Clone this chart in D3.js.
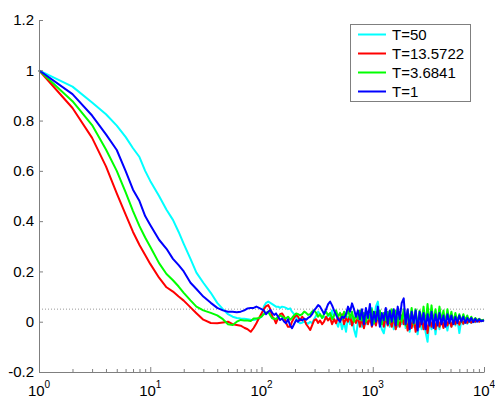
<!DOCTYPE html>
<html>
<head>
<meta charset="utf-8">
<script src="https://cdn.jsdelivr.net/npm/d3@7"></script>
<style>
  html, body { margin: 0; padding: 0; background: #fff; }
  svg { display: block; font-family: "Liberation Sans", Arial, sans-serif; }
</style>
</head>
<body>
<svg id="chart" width="495" height="400"></svg>
<script>
// ---- Data ----
const lags = [
  1,2,3,4,5,6,7,8,9,10,12,14,16,18,20,23,26,30,35,40,45,50,55,60,65,70,75,80,85,90,95,100,105,110,115,120,125,
  130,135,141,147,153,160,166,173,181,188,196,205,213,222,232,242,252,262,274,285,297,310,323,336,351,365,381,397,414,431,
  449,468,488,508,530,552,575,599,625,651,678,707,736,767,800,833,868,905,943,982,1024,1067,1111,1158,1207,1257,1310,1365,1423,1482,
  1545,1610,1677,1748,1821,1898,1977,2060,2147,2237,2331,2429,2531,2637,2748,2863,2983,3109,3239,3375,3517,3665,3819,3979,4146,4320,
  4502,4691,4888,5093,5307,5530,5762,6004,6256,6519,6793,7078,7375,7685,8008,8344,8694,9059,9440,10000
];

const seriesNames = ["T=50", "T=13.5722", "T=3.6841", "T=1"];
const seriesColors = ["#00ffff", "#ff0000", "#00ff00", "#0000ff"];

const valuesT50 = [
  1,0.935,0.872,0.825,0.78,0.735,0.69,0.655,0.6,0.56,0.5,0.445,0.405,0.357,0.31,0.25,0.195,0.155,0.115,0.075,0.05,0.03,0.02,0.015,0.013,0.012,0.01,0.008,0.007,0.01,0.013,0.02,0.06,0.075,0.08,0.075,0.07,
  0.065,0.06,0.06,0.055,0.06,0.058,0.055,0.05,0.053,0.04,0.03,0.015,0.0,-0.006,-0.004,0.0,-0.005,-0.008,0.0,-0.006,
  0.01,0.025,0.04,0.03,0.015,0.02,0.01,0.03,0.02,0.045,0.01,0.0,-0.02,0.01,-0.03,0.0,-0.04,0.02,-0.01,0.03,
  -0.03,-0.06,0.0,0.03,-0.02,0.02,-0.01,0.04,0.0,0.055,-0.01,0.06,0.08,0.01,-0.03,-0.046,0.0,0.03,-0.02,0.02,
  -0.03,0.01,-0.02,0.03,-0.01,0.02,-0.025,0.01,-0.04,0.015,-0.02,0.02,-0.05,0.01,-0.03,0.02,-0.04,-0.08,0.01,-0.03,
  0.02,-0.05,0.01,-0.03,0.015,-0.02,0.01,-0.035,0.01,-0.02,0.01,-0.015,0.01,-0.045,0.008,-0.01,0.01,-0.008,0.008,-0.005,
  0.006,-0.002,0.005,0.0,0.004,0.002
];

const valuesT13 = [
  1,0.85,0.731,0.618,0.51,0.427,0.357,0.305,0.265,0.23,0.175,0.137,0.12,0.1,0.084,0.057,0.034,0.008,-0.005,-0.006,-0.003,0.0,-0.01,-0.013,-0.016,-0.024,-0.03,-0.04,-0.025,-0.006,0.015,0.033,0.05,0.062,0.066,0.05,0.02,
  0.01,-0.006,0.015,0.03,0.033,0.02,-0.005,-0.02,-0.02,0.0,0.015,0.027,0.02,0.005,0.02,0.01,-0.01,-0.02,-0.033,-0.015,
  0.005,0.01,-0.005,0.005,-0.01,0.0,0.02,0.005,0.015,-0.01,0.01,-0.006,0.02,0.0,0.03,-0.01,0.015,0.0,0.025,-0.015,
  0.01,-0.005,0.02,-0.02,0.015,-0.026,0.01,-0.01,0.02,-0.02,0.01,-0.015,0.025,-0.01,0.015,-0.02,0.02,-0.015,0.01,-0.02,
  0.02,-0.03,0.01,-0.02,0.025,-0.01,0.02,-0.035,0.01,-0.025,0.015,-0.04,0.01,-0.02,0.02,-0.03,0.01,-0.045,0.015,-0.02,
  0.01,-0.03,0.015,-0.02,0.01,-0.025,0.015,-0.015,0.01,-0.02,0.01,-0.01,0.012,-0.012,0.01,-0.008,0.01,-0.005,0.01,-0.004,
  0.008,0.0,0.008,0.0,0.006,0.004
];

const valuesT3 = [
  1,0.877,0.782,0.685,0.6,0.515,0.44,0.38,0.335,0.298,0.233,0.19,0.165,0.14,0.115,0.085,0.06,0.045,0.035,0.025,0.01,-0.01,-0.013,0.0,0.007,0.005,0.005,0.003,0.013,0.013,0.015,0.02,0.03,0.035,0.04,0.025,0.013,
  0.013,0.01,0.02,0.025,0.02,0.015,0.013,0.02,0.008,0.015,0.025,0.033,0.03,0.025,0.03,0.04,0.035,0.027,0.03,0.04,
  0.045,0.035,0.02,0.03,0.015,0.03,0.04,0.025,0.035,0.01,0.025,0.045,0.02,0.035,0.01,0.04,0.02,0.05,0.015,0.04,
  0.0,0.03,0.01,0.045,0.005,0.035,0.0,0.04,0.01,0.05,-0.005,0.04,0.01,0.045,-0.01,0.035,0.005,0.04,-0.005,0.05,
  0.0,0.045,-0.01,0.04,0.0,0.05,-0.015,0.045,-0.005,0.055,-0.01,0.05,-0.02,0.045,0.0,0.06,-0.015,0.07,-0.01,0.065,
  -0.005,0.05,-0.01,0.06,0.0,0.045,-0.01,0.05,0.0,0.04,-0.005,0.035,0.0,0.03,0.0,0.03,0.005,0.025,0.0,0.02,
  0.002,0.015,0.005,0.012,0.005,0.008
];

const valuesT1 = [
  1,0.905,0.82,0.745,0.683,0.6,0.525,0.48,0.42,0.385,0.326,0.29,0.25,0.225,0.2,0.155,0.13,0.1,0.075,0.055,0.045,0.04,0.04,0.038,0.04,0.045,0.053,0.055,0.055,0.06,0.055,0.05,0.045,0.03,0.04,0.047,0.035,
  0.027,0.033,0.02,0.007,0.013,0.0,-0.006,0.01,-0.015,-0.026,-0.01,0.007,0.0,0.01,0.005,0.012,0.008,0.015,0.02,0.03,
  0.045,0.055,0.066,0.06,0.045,0.03,0.05,0.07,0.08,0.065,0.045,0.027,0.01,0.0,0.02,0.015,0.03,0.06,0.04,0.073,
  0.05,0.02,0.045,0.01,0.05,-0.01,0.055,0.015,0.07,-0.015,0.04,0.0,0.06,-0.02,0.035,0.005,0.055,-0.01,0.045,0.0,
  0.05,-0.015,0.06,0.01,0.075,0.093,-0.01,0.05,-0.03,0.04,-0.005,0.045,-0.035,0.04,-0.01,0.035,-0.03,0.03,-0.015,0.04,
  -0.025,0.03,-0.015,0.035,-0.01,0.025,-0.02,0.03,-0.005,0.025,-0.01,0.02,-0.005,0.025,0.0,0.02,-0.005,0.015,0.0,0.015,
  -0.002,0.012,0.0,0.01,0.002,0.006
];

const seriesValues = [valuesT50, valuesT13, valuesT3, valuesT1];

const yTicks = [-0.2, 0, 0.2, 0.4, 0.6, 0.8, 1, 1.2];
const yTickLabels = ["-0.2", "0", "0.2", "0.4", "0.6", "0.8", "1", "1.2"];
const xTicks = [1, 10, 100, 1000, 10000];
const xTickExponents = ["0", "1", "2", "3", "4"];
const refLevel = 0.05;

(function draw() {
  const svg = d3.select("#chart");
  const mLeft = 39, mRight = 484, mTop = 20, mBottom = 372;

  const x = d3.scaleLog().domain([1, 10000]).range([mLeft, mRight]);
  const y = d3.scaleLinear().domain([-0.2, 1.2]).range([mBottom, mTop]);

  const axisColor = "#7f7f7f";
  const fontSize = 15;

  // dotted reference line
  svg.append("line")
    .attr("x1", x(1)).attr("x2", x(10000))
    .attr("y1", y(refLevel)).attr("y2", y(refLevel))
    .attr("stroke", "#999").attr("stroke-width", 1)
    .attr("stroke-dasharray", "1,2");

  // series
  const line = d3.line().x((d, i) => x(lags[i])).y(d => y(d));
  seriesValues.forEach((vals, k) => {
    svg.append("path")
      .datum(vals)
      .attr("fill", "none")
      .attr("stroke", seriesColors[k])
      .attr("stroke-width", 2)
      .attr("stroke-linejoin", "round")
      .attr("d", line);
  });

  // y axis
  const yAxis = d3.axisLeft(y).tickValues(yTicks)
    .tickFormat((d, i) => yTickLabels[i])
    .tickSizeInner(-4).tickSizeOuter(0).tickPadding(5);
  const gy = svg.append("g").attr("transform", `translate(${mLeft},0)`).call(yAxis);
  gy.select(".domain").attr("stroke", axisColor);
  gy.selectAll(".tick line").attr("stroke", axisColor);
  gy.selectAll(".tick text").attr("fill", "#000").attr("font-size", fontSize)
    .attr("font-family", "Liberation Sans, Arial, sans-serif");

  // x axis (major)
  const xAxis = d3.axisBottom(x).tickValues(xTicks).tickFormat("")
    .tickSizeInner(-5).tickSizeOuter(0).tickPadding(0);
  const gx = svg.append("g").attr("transform", `translate(0,${mBottom})`).call(xAxis);
  gx.select(".domain").attr("stroke", axisColor);
  gx.selectAll(".tick line").attr("stroke", axisColor);
  gx.selectAll(".tick text").remove();

  // minor ticks
  const minorVals = [];
  xTicks.slice(0, -1).forEach(dec => { [2,3,4,5,6,7,8,9].forEach(m => minorVals.push(dec * m)); });
  const xMinor = d3.axisBottom(x).tickValues(minorVals).tickFormat("")
    .tickSizeInner(-3).tickSizeOuter(0);
  const gxm = svg.append("g").attr("transform", `translate(0,${mBottom})`).call(xMinor);
  gxm.select(".domain").remove();
  gxm.selectAll(".tick line").attr("stroke", axisColor);
  gxm.selectAll(".tick text").remove();

  // x tick labels with superscripts
  xTicks.forEach((t, i) => {
    const txt = svg.append("text")
      .attr("x", x(t)).attr("y", 396)
      .attr("text-anchor", "middle")
      .attr("font-size", fontSize)
      .attr("fill", "#000");
    txt.append("tspan").text("10");
    txt.append("tspan").attr("dy", -8).attr("font-size", 10).text(xTickExponents[i]);
  });

  // legend
  const lg = svg.append("g");
  lg.append("rect")
    .attr("x", 350.5).attr("y", 24.5).attr("width", 120).attr("height", 77)
    .attr("fill", "#fff").attr("stroke", axisColor).attr("stroke-width", 1);
  seriesNames.forEach((name, k) => {
    const cy = 34.5 + k * 19;
    lg.append("line")
      .attr("x1", 358).attr("x2", 386).attr("y1", cy).attr("y2", cy)
      .attr("stroke", seriesColors[k]).attr("stroke-width", 2);
    lg.append("text")
      .attr("x", 392).attr("y", cy + 5.5)
      .attr("font-size", 15).attr("fill", "#000")
      .text(name);
  });
})();
</script>
</body>
</html>
